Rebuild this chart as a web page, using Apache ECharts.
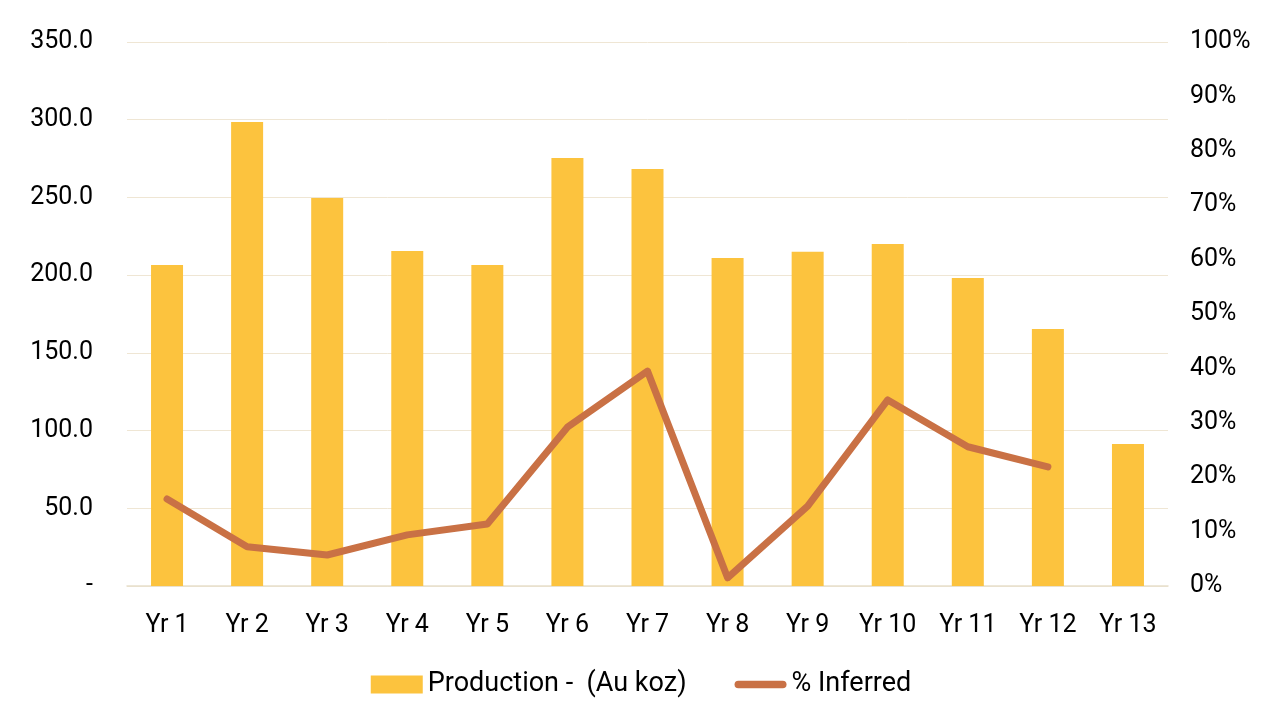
<!DOCTYPE html>
<html>
<head>
<meta charset="utf-8">
<script src="https://cdn.jsdelivr.net/npm/echarts@6/dist/echarts.min.js"></script>
<style>
html,body{margin:0;padding:0;background:#fff;}
#chart{width:1282px;height:709px;}
</style>
</head>
<body>
<div id="chart"></div>
<script>
const categories = ['Yr 1','Yr 2','Yr 3','Yr 4','Yr 5','Yr 6','Yr 7','Yr 8','Yr 9','Yr 10','Yr 11','Yr 12','Yr 13'];
const production = [206.5, 298.5, 249.6, 215.5, 206.5, 275.4, 268.3, 211.0, 215.0, 220.0, 198.2, 165.4, 91.4];
const inferredPct = [16.0, 7.2, 5.7, 9.4, 11.4, 29.2, 39.5, 1.5, 14.7, 34.2, 25.6, 21.9, null];

const FONT = 'Roboto';
const chart = echarts.init(document.getElementById('chart'));
chart.setOption({
  animation: false,
  textStyle: { fontFamily: FONT },
  grid: { left: 127, right: 114, top: 42, bottom: 123, containLabel: false },
  legend: {
    bottom: 6,
    left: 'center',
    itemGap: 48,
    textStyle: { fontSize: 27, color: '#000', fontFamily: FONT },
    data: [
      { name: 'Production -  (Au koz)', icon: 'rect', itemStyle: { color: '#FCC33E' } },
      { name: '% Inferred', icon: 'path://M4,0 H51 A4,4 0 0 1 51,8 H4 A4,4 0 0 1 4,0 Z', itemStyle: { color: '#C97145' } }
    ],
    itemWidth: 52,
    itemHeight: 18
  },
  xAxis: {
    type: 'category',
    data: categories,
    axisLine: { lineStyle: { color: '#E8DFCB', width: 1.5 } },
    axisTick: { show: false },
    axisLabel: { color: '#000', fontSize: 25, margin: 27, fontFamily: FONT }
  },
  yAxis: [
    {
      type: 'value', min: 0, max: 350, interval: 50,
      axisLine: { show: false }, axisTick: { show: false },
      splitLine: { lineStyle: { color: '#EFE6D4', width: 1 } },
      axisLabel: {
        color: '#000', fontSize: 25, margin: 34, fontFamily: FONT,
        padding: [4, 0, 0, 0],
        formatter: v => v === 0 ? '-' : v.toFixed(1)
      }
    },
    {
      type: 'value', min: 0, max: 100, interval: 10,
      axisLine: { show: false }, axisTick: { show: false },
      splitLine: { show: false },
      axisLabel: {
        color: '#000', fontSize: 25, margin: 22, fontFamily: FONT,
        padding: [4, 0, 0, 0],
        formatter: v => v + '%'
      }
    }
  ],
  series: [
    {
      name: 'Production -  (Au koz)',
      type: 'bar',
      data: production,
      barWidth: 32,
      itemStyle: { color: '#FCC33E' }
    },
    {
      name: '% Inferred',
      type: 'line',
      yAxisIndex: 1,
      data: inferredPct,
      symbol: 'none',
      connectNulls: false,
      lineStyle: { color: '#C97145', width: 7, cap: 'round', join: 'round' },
      itemStyle: { color: '#C97145' }
    }
  ]
});
</script>
</body>
</html>
